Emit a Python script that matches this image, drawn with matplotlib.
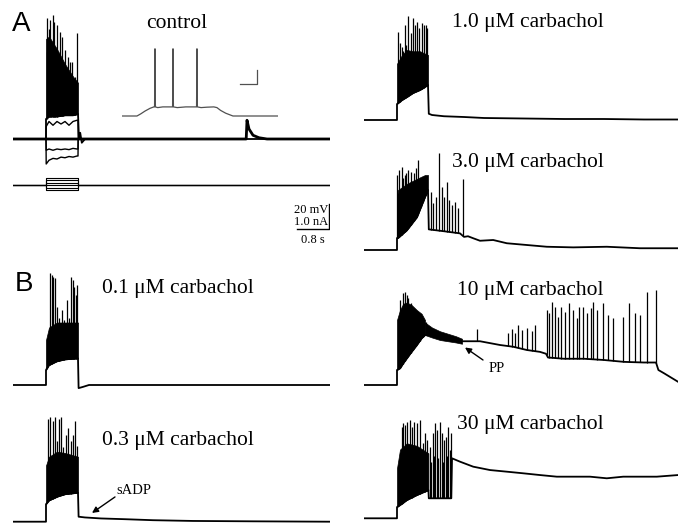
import numpy as np
import matplotlib
matplotlib.use("Agg")
import matplotlib.pyplot as plt

plt.rcParams['font.family'] = ['Liberation Serif', 'DejaVu Serif']

# time in s, membrane potential in mV relative to rest, current in nA
STEP_ON, STEP_OFF = 0.825, 1.625
LEFT_END, RIGHT_END = 7.925, 7.85

# --- A, control, family of current steps
stim_amps = [0.3, 0.2, 0.1, 0.0, -0.1, -0.2]

a_rest_t = [0, 5.83, 5.85, 5.9, 6.0, 6.15, 6.35, LEFT_END]
a_rest_v = [0, 0, 15, 8, 3, 1, 0, 0]
a_step_t = [0.825, 0.83, 0.9, 1.0, 1.1, 1.2, 1.3, 1.4, 1.5, 1.6, 1.625, 1.63, 1.7]
a_sub_v = [0, 10, 14, 11, 14, 12, 14, 11, 14, 15, 15, 0, 0]
a_hyp1_v = [0, -9, -8, -9, -8, -8.5, -8, -8.5, -7.5, -8, -8, 0, 0]
a_hyp2_v = [0, -20, -17, -15.5, -16, -14.5, -15, -14, -14.5, -13.6, -13.6, 0, 0]

a_burst_t = [0.825, 0.9, 1.1, 1.3, 1.5, 1.625]
a_burst_lo = [16, 18, 18, 19, 19, 20]
a_burst_hi = [80, 82, 72, 60, 50, 45]
a_spk_t = [0.84, 0.85, 0.875, 0.9, 0.925, 0.95, 1.0, 1.025, 1.05, 1.1, 1.15, 1.175,
           1.225, 1.25, 1.3, 1.35, 1.375, 1.42, 1.475, 1.525, 1.55, 1.6]
a_spk_v = [70, 97, 80, 88, 95, 75, 99, 94, 70, 91, 65, 86, 82, 60, 71, 55, 66, 62,
           62, 42, 50, 85]
a_post_t = [1.65, 1.68, 1.72, 1.8, LEFT_END]
a_post_v = [0, 5, -3, 0, 0]

# inset (ms, mV)
inset_t = [0, 176, 220, 270, 330, 375, 383, 388, 393, 420, 480, 550, 595, 600, 605,
           650, 750, 850, 877, 882, 887, 930, 1000, 1080, 1117, 1160, 1220, 1305, 1835]
inset_v = [0, 0, 1.5, 3.5, 5.5, 6.5, 6.5, 48, 6.5, 6, 6.5, 6.5, 6.5, 48, 6.5,
           6, 6.5, 6.5, 6.5, 48, 6.5, 6, 6.3, 6.5, 6, 4, 2, 0, 0]

# --- 1.0 uM
c1_burst_t = [0.825, 0.95, 1.075, 1.225, 1.4, 1.6]
c1_burst_lo = [12.8, 16, 18.4, 21.6, 24, 28]
c1_burst_hi = [45, 52, 56, 55, 55, 52]
c1_spk_t = [0.86, 0.9, 0.94, 0.98, 1.025, 1.06, 1.11, 1.17, 1.23, 1.275, 1.33,
            1.38, 1.44, 1.5, 1.55, 1.58]
c1_spk_v = [70.6, 61.6, 58.7, 55, 76, 60, 83, 69.6, 81.6, 76, 78.4, 73.6, 77.6,
            76, 76, 73.6]
c1_post_t = [1.62, 1.7, 2.0, 2.5, 3.0, 4.0, 5.0, 6.0, 7.0, RIGHT_END]
c1_post_v = [5, 4, 3, 2.4, 1.6, 1.2, 0.8, 0.8, 0.4, 0.4]

# --- 3.0 uM
c3_burst_t = [0.825, 0.85, 1.075, 1.325, 1.525, 1.6]
c3_burst_lo = [9.6, 9.6, 16, 26.4, 42.4, 48]
c3_burst_hi = [42, 48, 53, 57, 60, 60]
c3_spk_t = [0.83, 0.88, 0.94, 0.98, 1.025, 1.06, 1.11, 1.17, 1.25, 1.3, 1.36,
            1.425, 1.48, 1.55,
            1.67, 1.73, 1.79, 1.875, 1.94, 2.0, 2.07, 2.13, 2.19, 2.275, 2.36, 2.48]
c3_spk_v = [60, 64, 66.7, 58, 60, 62, 64, 62.7, 61.3, 66, 72, 56, 54.7, 58,
            46.6, 37.4, 42.6, 77.8, 50.6, 42.6, 54.6, 40, 36, 38.6, 33.4, 56.6]
c3_post_t = [1.62, 2.0, 2.4, 2.5, 2.6, 2.73, 2.9, 3.23, 3.57, 4.07, 4.57, 5.23,
             6.07, 6.9, RIGHT_END]
c3_post_v = [16.5, 15, 13.3, 10.5, 11, 9.4, 7.4, 8, 5.4, 4, 2.6, 2.1, 2.6, 1.4, 1.4]

# --- 0.1 uM
b1_burst_t = [0.825, 0.9, 1.1, 1.3, 1.625]
b1_burst_lo = [12, 16, 19, 20.5, 21.3]
b1_burst_hi = [36, 46, 50, 50, 50]
b1_spk_t = [0.86, 0.925, 0.97, 1.01, 1.05, 1.11, 1.16, 1.22, 1.275, 1.34, 1.41,
            1.45, 1.49, 1.53, 1.575, 1.61]
b1_spk_v = [36, 89.3, 88, 86.6, 85.3, 62.6, 53.3, 60, 52, 68, 53.3, 86.6, 84,
            78.6, 72, 80]
b1_post_t = [1.64, 1.75, 1.9, LEFT_END]
b1_post_v = [-2.5, -1.5, 0, 0]

# --- 0.3 uM
b3_burst_t = [0.825, 0.9, 1.1, 1.3, 1.625]
b3_burst_lo = [14, 17, 20, 22, 23.2]
b3_burst_hi = [45, 52, 56, 55, 52]
b3_spk_t = [0.88, 0.925, 0.99, 1.05, 1.11, 1.16, 1.2, 1.26, 1.325, 1.38, 1.44,
            1.49, 1.55, 1.61]
b3_spk_v = [82.2, 83.4, 80.8, 83.4, 64.8, 82.2, 83.4, 59.4, 69.4, 74.6, 64.8,
            69.4, 80.8, 60.8]
b3_post_t = [1.64, 1.8, 2.2, 2.8, 3.5, 4.5, 6.0, LEFT_END]
b3_post_v = [4, 3.4, 2.6, 2.0, 1.2, 0.6, 0.3, 0]

# --- 10 uM
c10_burst_t = [0.825, 0.9, 0.98, 1.07, 1.19, 1.32, 1.44, 1.525]
c10_burst_lo = [12, 13.4, 17.4, 21.4, 26.6, 32, 37.4, 40]
c10_burst_hi = [52, 60, 65, 66, 64, 60, 57, 52]
c10_band_t = [1.525, 1.7, 1.9, 2.1, 2.3, 2.45]
c10_band_lo = [40, 38, 36, 35, 34, 33]
c10_band_hi = [50, 46, 43, 41, 39, 37]
c10_post_t = [1.7, 1.9, 2.1, 2.3, 2.45, 2.9, 3.4, 3.73, 4.07, 4.4, 4.55, 4.6, 5.0,
              5.5, 6.0, 6.5, 7.0, 7.3, 7.36, 7.5, RIGHT_END]
c10_post_v = [40, 38, 36.5, 35, 35, 35, 32, 30.6, 28, 26.5, 25, 22, 21, 21, 20,
              18.5, 18, 18, 12, 9.4, 2.6]
c10_spk_t = [0.9, 0.97, 1.025, 1.07, 1.11, 1.17, 1.23, 1.3, 1.4, 1.48, 1.55,
             2.82, 3.6, 3.7, 3.78, 3.85, 3.94, 4.07, 4.19, 4.28,
             4.57, 4.63, 4.69, 4.775, 4.86, 4.92, 5.03, 5.13, 5.23, 5.33, 5.38,
             5.48, 5.58, 5.67, 5.73, 5.83, 5.98, 6.11, 6.23, 6.47, 6.63, 6.775,
             6.9, 7.07, 7.3]
c10_spk_v = [68, 73.4, 74.6, 72, 69.4, 65.4, 60, 57.4, 54.6, 52, 50.6,
             45, 42, 45, 42, 48, 44, 46, 43, 48,
             60, 57.4, 66.6, 62.6, 54.6, 62.6, 58.6, 65.4, 60, 53.4, 62.6,
             62.6, 57.4, 61.4, 66.6, 60, 65.4, 56, 53.4, 54.6, 65.4, 57.4,
             56, 74.6, 76]

# --- 30 uM
c30_burst_t = [0.825, 0.9, 1.07, 1.32, 1.61]
c30_burst_lo = [9, 10.6, 14.6, 18.6, 22.6]
c30_burst_hi = [40, 55, 60, 58, 52]
c30_post_t = [1.62, 2.18, 2.2, 2.4, 2.73, 3.15, 3.57, 3.98, 4.4, 4.82, 5.23, 5.65,
              6.07, 6.48, 6.9, 7.32, RIGHT_END]
c30_post_v = [16, 16, 48, 45.3, 41.3, 38.6, 37.3, 36, 34.6, 33.3, 33.3, 33.3, 32,
              33.3, 33.3, 33.3, 34.6]
c30_spk_t = [0.94, 0.98, 1.025, 1.07, 1.15, 1.19, 1.25, 1.32, 1.4, 1.47, 1.525,
             1.58, 1.65, 1.68, 1.72, 1.75, 1.775, 1.83, 1.86, 1.9, 1.94, 1.97,
             2.0, 2.05, 2.08, 2.11, 2.14, 2.17]
c30_spk_v = [73, 76, 74.6, 77.4, 78.6, 73, 77.4, 76, 78.6, 60, 68.2, 62.6, 57.4,
             45, 68, 50, 76, 70.6, 48, 77.4, 68, 45, 62.6, 65.2, 50, 73, 55, 68]

# ---------------------------------------------------------------
W, H = 679, 523
fig = plt.figure(figsize=(W / 100, H / 100), dpi=100)


def make_axes(left, base, xlen, xscale, ylo, yhi, yscale):
    # left/base in pixels, xscale px per x unit, yscale px per y unit
    bottom = base - ylo * yscale
    ax = fig.add_axes([left / W, 1 - bottom / H, xlen * xscale / W,
                       (yhi - ylo) * yscale / H])
    ax.set_xlim(0, xlen)
    ax.set_ylim(ylo, yhi)
    ax.axis('off')
    return ax


def cell_axes(left, base, tend):
    return make_axes(left, base, tend, 40.0, -110, 110, 1.25)


def draw_cell(ax, burst_t, burst_lo, burst_hi, post_t, post_v, spk_t, spk_v):
    t = [0, STEP_ON] + burst_t + post_t
    v = [0, 0] + burst_lo + post_v
    ax.plot(t, v, color='k', lw=1.3)
    ax.fill_between(burst_t, burst_lo, burst_hi, color='k', lw=0.5)
    ax.vlines(spk_t, np.interp(spk_t, t, v), spk_v, color='k', lw=0.9)


# A: control
ax_a = cell_axes(13, 139, LEFT_END)
ax_a.plot(a_rest_t, a_rest_v, color='k', lw=2.0)
for vals in (a_sub_v, a_hyp1_v, a_hyp2_v):
    ax_a.plot(a_step_t, vals, color='k', lw=1.0)
draw_cell(ax_a, a_burst_t, a_burst_lo, a_burst_hi, a_post_t, a_post_v,
          a_spk_t, a_spk_v)

# scale bar: 20 mV / 1.0 nA, 0.8 s
ax_a.plot([7.1, 7.9, 7.9], [-72, -72, -52], color='k', lw=1.0)
ax_a.text(7.87, -57, '20 mV', ha='right', va='center', fontsize=9)
ax_a.text(7.87, -66.5, '1.0 nA', ha='right', va='center', fontsize=9)
ax_a.text(7.5, -81, '0.8 s', ha='center', va='center', fontsize=9)

# current steps
ax_i = make_axes(13, 185, LEFT_END, 40.0, -1, 1, 25.0)
for amp in stim_amps:
    ax_i.plot([0, STEP_ON, STEP_ON, STEP_OFF, STEP_OFF, LEFT_END],
              [0, 0, amp, amp, 0, 0], color='k', lw=0.8)

# inset
ax_in = make_axes(122, 116, 1835, 0.085, -20, 60, 1.4)
ax_in.plot(inset_t, inset_v, color='#505050', lw=0.9)
ax_in.plot([1388, 1588, 1588], [22.9, 22.9, 32.9], color='#505050', lw=0.9)

# right column
ax_c1 = cell_axes(364, 120, RIGHT_END)
draw_cell(ax_c1, c1_burst_t, c1_burst_lo, c1_burst_hi, c1_post_t, c1_post_v,
          c1_spk_t, c1_spk_v)
ax_c3 = cell_axes(364, 250, RIGHT_END)
draw_cell(ax_c3, c3_burst_t, c3_burst_lo, c3_burst_hi, c3_post_t, c3_post_v,
          c3_spk_t, c3_spk_v)

# B left
ax_b1 = cell_axes(13, 385, LEFT_END)
draw_cell(ax_b1, b1_burst_t, b1_burst_lo, b1_burst_hi, b1_post_t, b1_post_v,
          b1_spk_t, b1_spk_v)
ax_b3 = cell_axes(13, 521.7, LEFT_END)
draw_cell(ax_b3, b3_burst_t, b3_burst_lo, b3_burst_hi, b3_post_t, b3_post_v,
          b3_spk_t, b3_spk_v)
ax_b3.annotate('', xy=(1.975, 7), xytext=(2.55, 19.8),
               arrowprops=dict(arrowstyle='-|>', color='k', lw=1.0,
                               mutation_scale=9, shrinkA=0, shrinkB=0))

# B right
ax_c10 = cell_axes(364, 385, RIGHT_END)
draw_cell(ax_c10, c10_burst_t, c10_burst_lo, c10_burst_hi, c10_post_t,
          c10_post_v, c10_spk_t, c10_spk_v)
ax_c10.fill_between(c10_band_t, c10_band_lo, c10_band_hi, color='k', lw=0.5)
ax_c10.annotate('', xy=(2.525, 30), xytext=(2.975, 20),
                arrowprops=dict(arrowstyle='-|>', color='k', lw=1.0,
                                mutation_scale=9, shrinkA=0, shrinkB=0))
ax_c30 = cell_axes(364, 518.3, RIGHT_END)
draw_cell(ax_c30, c30_burst_t, c30_burst_lo, c30_burst_hi, c30_post_t,
          c30_post_v, c30_spk_t, c30_spk_v)


def label(x, y, s, **kw):
    fig.text(x / W, 1 - y / H, s, ha='center', va='center', **kw)


label(21, 24, 'A', family='Liberation Sans', fontsize=20)
label(24, 284, 'B', family='Liberation Sans', fontsize=20)
label(177, 23, 'control', fontsize=15.5)
label(528, 23, '1.0 \u03bcM carbachol', fontsize=15.5)
label(528, 163, '3.0 \u03bcM carbachol', fontsize=15.5)
label(178, 289, '0.1 \u03bcM carbachol', fontsize=15.5)
label(178, 440, '0.3 \u03bcM carbachol', fontsize=15.5)
label(530, 290, '10 \u03bcM carbachol', fontsize=15.5)
label(530, 425, '30 \u03bcM carbachol', fontsize=15.5)
label(134, 491, 'sADP', fontsize=10.5)
label(497, 368, 'PP', fontsize=10.5)

fig.savefig('out.png', dpi=100)
